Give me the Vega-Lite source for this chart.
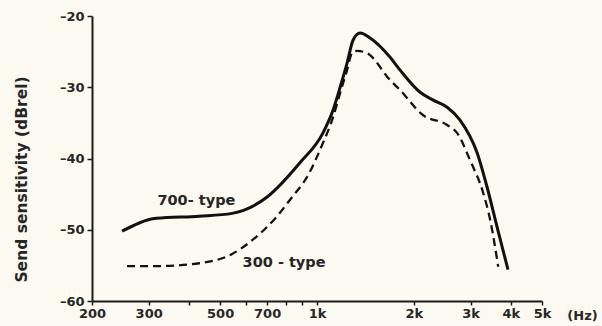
{
  "$schema": "https://vega.github.io/schema/vega-lite/v6.json",
  "width": 450,
  "height": 285,
  "autosize": "none",
  "padding": {"left": 92, "top": 16, "right": 60, "bottom": 25},
  "background": "#fcfaf0",
  "config": {
    "view": {"stroke": null},
    "font": "DejaVu Sans",
    "axis": {"domainColor": "#1a1a1a", "domainWidth": 2, "tickColor": "#1a1a1a", "tickWidth": 1.5, "labelColor": "#262626", "titleColor": "#262626", "grid": false, "labelFontSize": 13, "labelFontWeight": "bold", "labelFont": "DejaVu Sans", "titleFont": "DejaVu Sans"}
  },
  "datasets": {
    "t700": [
      {"f": 248, "s": -50.2},
      {"f": 317, "s": -48.4},
      {"f": 431, "s": -48.1},
      {"f": 545, "s": -47.7},
      {"f": 700, "s": -45.4},
      {"f": 885, "s": -40.6},
      {"f": 1044, "s": -36.4},
      {"f": 1122, "s": -33.2},
      {"f": 1180, "s": -30.0},
      {"f": 1240, "s": -26.6},
      {"f": 1294, "s": -23.4},
      {"f": 1361, "s": -22.4},
      {"f": 1462, "s": -23.1},
      {"f": 1687, "s": -25.8},
      {"f": 1812, "s": -27.6},
      {"f": 2090, "s": -30.7},
      {"f": 2296, "s": -31.8},
      {"f": 2537, "s": -32.8},
      {"f": 2782, "s": -34.6},
      {"f": 3143, "s": -39.2},
      {"f": 3375, "s": -44.0},
      {"f": 3625, "s": -49.6},
      {"f": 3920, "s": -55.6}
    ],
    "t300": [
      {"f": 257, "s": -55.1},
      {"f": 317, "s": -55.1},
      {"f": 431, "s": -54.7},
      {"f": 545, "s": -53.4},
      {"f": 628, "s": -51.5},
      {"f": 745, "s": -48.3},
      {"f": 834, "s": -45.5},
      {"f": 931, "s": -42.6},
      {"f": 1044, "s": -37.8},
      {"f": 1122, "s": -34.2},
      {"f": 1180, "s": -30.8},
      {"f": 1240, "s": -27.6},
      {"f": 1285, "s": -25.2},
      {"f": 1331, "s": -24.9},
      {"f": 1429, "s": -25.2},
      {"f": 1687, "s": -29.0},
      {"f": 1812, "s": -30.4},
      {"f": 2133, "s": -33.9},
      {"f": 2537, "s": -35.3},
      {"f": 2723, "s": -36.4},
      {"f": 2986, "s": -40.2},
      {"f": 3281, "s": -44.8},
      {"f": 3451, "s": -48.6},
      {"f": 3656, "s": -55.2}
    ],
    "labels": [
      {"f": 422, "s": -46.0, "t": "700- type"},
      {"f": 790, "s": -54.6, "t": "300 - type"}
    ]
  },
  "encoding": {
    "x": {
      "field": "f", "type": "quantitative",
      "scale": {"type": "log", "domain": [200, 5000], "nice": false},
      "axis": {
        "values": [200, 300, 400, 500, 600, 700, 800, 900, 1000, 2000, 3000, 4000, 5000],
        "labelExpr": "indexof([400,600,800,900], datum.value) >= 0 ? '' : (datum.value >= 1000 ? (datum.value/1000) + 'k' : datum.value)",
        "tickSize": 4, "labelPadding": 2, "labelFlush": false, "labelOverlap": false,
        "title": "(Hz)", "titleFontSize": 13, "titleFontWeight": "bold",
        "titleX": 490, "titleY": 14, "titleAlign": "center", "titleBaseline": "middle"
      }
    },
    "y": {
      "field": "s", "type": "quantitative",
      "scale": {"domain": [-60, -20], "nice": false, "zero": false},
      "axis": {
        "values": [-60, -50, -40, -30, -20],
        "labelExpr": "'\u2013' + abs(datum.value)",
        "tickSize": 5, "labelPadding": 3, "labelFlush": false,
        "title": "Send sensitivity (dBrel)", "titleFontSize": 15.5, "titleFontWeight": "bold",
        "titleX": -71, "titleY": 163, "titleAngle": -90, "titleAlign": "center", "titleBaseline": "middle"
      }
    }
  },
  "layer": [
    {
      "data": {"name": "t700"},
      "mark": {"type": "line", "interpolate": "monotone", "color": "#111111", "strokeWidth": 3}
    },
    {
      "data": {"name": "t300"},
      "mark": {"type": "line", "interpolate": "monotone", "color": "#111111", "strokeWidth": 2.3, "strokeDash": [8, 5]}
    },
    {
      "data": {"name": "labels"},
      "mark": {"type": "text", "fontSize": 14.5, "fontWeight": "bold", "color": "#262626", "align": "center", "baseline": "middle"},
      "encoding": {"text": {"field": "t"}}
    }
  ]
}
